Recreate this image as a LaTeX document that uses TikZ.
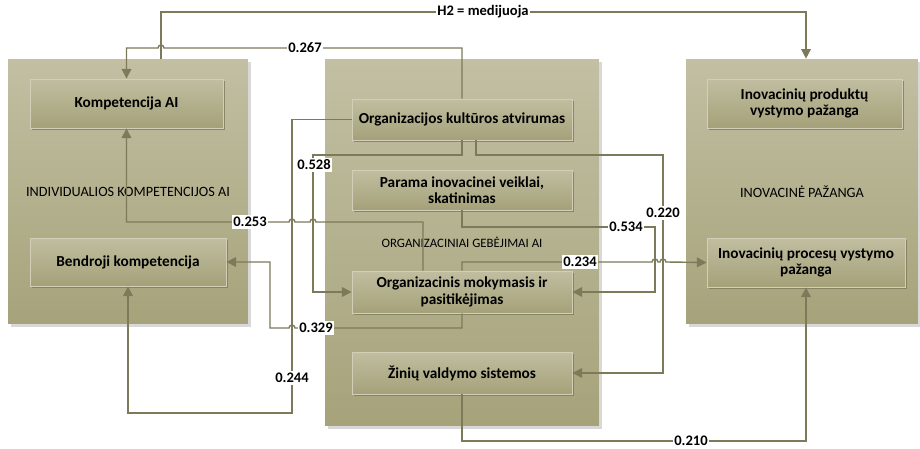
\documentclass[tikz,border=0pt]{standalone}
\usepackage{fontspec}
\setmainfont{Carlito}
\usetikzlibrary{arrows.meta,shadows}
\definecolor{panelTop}{HTML}{C2BFA3}
\definecolor{panelBot}{HTML}{A6A37B}
\definecolor{boxTop}{HTML}{C1BEA1}
\definecolor{boxBot}{HTML}{A4A179}
\definecolor{boxLine}{HTML}{D2CFB8}
\definecolor{linkCol}{HTML}{7D7A5A}

\begin{document}
\begin{tikzpicture}[x=0.02cm, y=-0.02cm,
  panel/.style={top color=panelTop, bottom color=panelBot, inner sep=0,
    drop shadow={shadow xshift=1.5pt, shadow yshift=-1.5pt, fill=black!30, opacity=0.5}},
  blk/.style={top color=boxTop, bottom color=boxBot, draw=boxLine, line width=0.5pt,
    inner sep=0, align=center, font=\fontsize{8.7}{9.4}\selectfont\bfseries,
    drop shadow={shadow xshift=1.3pt, shadow yshift=-1.3pt, fill=panelBot!75!black, opacity=0.8}},
  conn/.style={draw=linkCol, line width=0.8pt, -{Triangle[width=5.5pt,length=5.5pt]}},
  val/.style={fill=white, inner sep=1pt, font=\fontsize{8.3}{9.2}\selectfont\bfseries}]
 \useasboundingbox (0,0) rectangle (920,449);

 % the three groups
 \node[panel, minimum width=4.8cm, minimum height=5.3cm, font=\fontsize{8.1}{9}\selectfont]
   (indiv) at (128,191.5) {INDIVIDUALIOS KOMPETENCIJOS AI};
 \node[panel, minimum width=5.48cm, minimum height=7.34cm, font=\fontsize{7.3}{8}\selectfont]
   (orggeb) at (462,242.5) {ORGANIZACINIAI GEBĖJIMAI AI};
 \node[panel, minimum width=4.64cm, minimum height=5.3cm, font=\fontsize{8.1}{9}\selectfont]
   (inov) at (802,191.5) {INOVACINĖ PAŽANGA};

 % inner blocks
 \node[blk, minimum width=3.86cm, minimum height=0.98cm] (komp) at (126.5,103.5) {Kompetencija AI};
 \node[blk, minimum width=3.92cm, minimum height=0.96cm] (bendr) at (128,262) {Bendroji kompetencija};
 \node[blk, minimum width=4.4cm, minimum height=0.82cm] (orgk) at (462,119.5) {Organizacijos kultūros atvirumas};
 \node[blk, minimum width=4.4cm, minimum height=0.8cm] (parama) at (462,190) {Parama inovacinei veiklai,\\ skatinimas};
 \node[blk, minimum width=4.4cm, minimum height=0.84cm] (orgm) at (462,292) {Organizacinis mokymasis ir\\ pasitikėjimas};
 \node[blk, minimum width=4.4cm, minimum height=0.84cm] (ziniu) at (462,373) {Žinių valdymo sistemos};
 \node[blk, minimum width=3.9cm, minimum height=0.98cm] (produkt) at (804.5,103.5) {Inovacinių produktų\\ vystymo pažanga};
 \node[blk, minimum width=3.96cm, minimum height=0.98cm] (proces) at (806,262.5) {Inovacinių procesų vystymo\\ pažanga};

 % links
 \coordinate (h2) at (483,12);
 \draw[conn] ([xshift=0.66cm]indiv.north) |- (h2) -| ([xshift=0.08cm]inov.north);
 \draw[conn] (orgk.north) |- (164,48) arc[start angle=0, end angle=180, radius=0.06cm] -| (komp.north);
 \draw[conn] (orgk.south) |- (313,155) |- (orgm.west);
 \draw[conn] (orgk.west) -| (292,413) -| (bendr.south);
 \draw[conn] ([xshift=0.28cm]orgk.south) |- (663,155) |- (ziniu.east);
 \draw[conn] (parama.south) |- (655,227) |- (orgm.east);
 \draw[conn] ([xshift=-0.78cm]orgm.north) |- (316,222)
   arc[start angle=0, end angle=180, radius=0.06cm] -- (295,222)
   arc[start angle=0, end angle=180, radius=0.06cm] -| (komp.south);
 \draw[conn] (orgm.south) |- (295,328) arc[start angle=0, end angle=180, radius=0.06cm] -- (270,328) |- (bendr.east);
 \draw[conn] (orgm.north) |- (652,262)
   arc[start angle=180, end angle=0, radius=0.06cm] -- (660,262)
   arc[start angle=180, end angle=0, radius=0.06cm] -- (proces.west);
 \draw[conn] (ziniu.south) |- (806,441) -- (proces.south);

 % values
 \node[val] (h2lab) at (h2) {H2 = medijuoja};
 \node[val] (v267) at (305,48) {0.267};
 \node[val] (v528) at (314,165) {0.528};
 \node[val] (v244) at (292,378) {0.244};
 \node[val] (v220) at (663,213) {0.220};
 \node[val] (v534) at (626,227) {0.534};
 \node[val] (v253) at (250,222) {0.253};
 \node[val] (v329) at (316,328) {0.329};
 \node[val] (v234) at (580,262) {0.234};
 \node[val] (v210) at (691,441) {0.210};
\end{tikzpicture}
\end{document}
